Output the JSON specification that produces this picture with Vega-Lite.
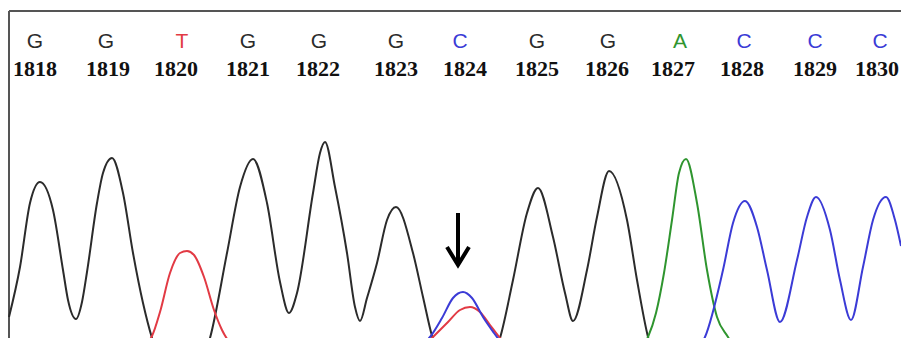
{
  "$schema": "https://vega.github.io/schema/vega-lite/v6.json",
  "width": 901,
  "height": 338,
  "autosize": {"type": "fit", "contains": "padding"},
  "padding": 0,
  "background": "white",
  "config": {"view": {"stroke": null}},
  "datasets": {
    "trace": [
      {"s":"G1","b":"G","x":9,"y":21},{"s":"G1","b":"G","x":20,"y":71},{"s":"G1","b":"G","x":30,"y":135},{"s":"G1","b":"G","x":40,"y":156},{"s":"G1","b":"G","x":53,"y":128},{"s":"G1","b":"G","x":63,"y":68},{"s":"G1","b":"G","x":68,"y":38},{"s":"G1","b":"G","x":76,"y":19},{"s":"G1","b":"G","x":82,"y":36},{"s":"G1","b":"G","x":87,"y":66},{"s":"G1","b":"G","x":97,"y":135},{"s":"G1","b":"G","x":103,"y":165},{"s":"G1","b":"G","x":112,"y":180},{"s":"G1","b":"G","x":123,"y":145},{"s":"G1","b":"G","x":133,"y":85},{"s":"G1","b":"G","x":143,"y":35},{"s":"G1","b":"G","x":152,"y":0},{"s":"G1","b":"G","x":166,"y":-34},{"s":"G1","b":"G","x":181,"y":-47},{"s":"G1","b":"G","x":196,"y":-34},{"s":"G1","b":"G","x":210,"y":0},{"s":"G1","b":"G","x":227,"y":85},{"s":"G1","b":"G","x":240,"y":151},{"s":"G1","b":"G","x":253,"y":179},{"s":"G1","b":"G","x":267,"y":135},{"s":"G1","b":"G","x":280,"y":56},{"s":"G1","b":"G","x":289,"y":25},{"s":"G1","b":"G","x":297,"y":45},{"s":"G1","b":"G","x":313,"y":145},{"s":"G1","b":"G","x":320,"y":185},{"s":"G1","b":"G","x":325,"y":196},{"s":"G1","b":"G","x":335,"y":151},{"s":"G1","b":"G","x":347,"y":85},{"s":"G1","b":"G","x":355,"y":31},{"s":"G1","b":"G","x":360,"y":17},{"s":"G1","b":"G","x":367,"y":40},{"s":"G1","b":"G","x":377,"y":75},{"s":"G1","b":"G","x":387,"y":118},{"s":"G1","b":"G","x":396,"y":131},{"s":"G1","b":"G","x":413,"y":85},{"s":"G1","b":"G","x":423,"y":41},{"s":"G1","b":"G","x":432,"y":2},{"s":"G1","b":"G","x":447,"y":-30},{"s":"G1","b":"G","x":466,"y":-42},{"s":"G1","b":"G","x":485,"y":-30},{"s":"G1","b":"G","x":500,"y":0},{"s":"G1","b":"G","x":513,"y":58},{"s":"G1","b":"G","x":527,"y":125},{"s":"G1","b":"G","x":538,"y":150},{"s":"G1","b":"G","x":553,"y":101},{"s":"G1","b":"G","x":565,"y":45},{"s":"G1","b":"G","x":573,"y":17},{"s":"G1","b":"G","x":587,"y":68},{"s":"G1","b":"G","x":597,"y":121},{"s":"G1","b":"G","x":609,"y":167},{"s":"G1","b":"G","x":627,"y":118},{"s":"G1","b":"G","x":637,"y":58},{"s":"G1","b":"G","x":648,"y":1},{"s":"G1","b":"G","x":662,"y":-34},{"s":"G1","b":"G","x":680,"y":-52},
      {"s":"T1","b":"T","x":140,"y":-10},{"s":"T1","b":"T","x":152,"y":2},{"s":"T1","b":"T","x":160,"y":26},{"s":"T1","b":"T","x":170,"y":65},{"s":"T1","b":"T","x":180,"y":85},{"s":"T1","b":"T","x":187,"y":87},{"s":"T1","b":"T","x":194,"y":83},{"s":"T1","b":"T","x":204,"y":61},{"s":"T1","b":"T","x":214,"y":28},{"s":"T1","b":"T","x":222,"y":8},{"s":"T1","b":"T","x":232,"y":-8},
      {"s":"T2","b":"T","x":425,"y":-7},{"s":"T2","b":"T","x":435,"y":3},{"s":"T2","b":"T","x":448,"y":16},{"s":"T2","b":"T","x":460,"y":28},{"s":"T2","b":"T","x":470,"y":31},{"s":"T2","b":"T","x":480,"y":26},{"s":"T2","b":"T","x":490,"y":13},{"s":"T2","b":"T","x":500,"y":0},{"s":"T2","b":"T","x":507,"y":-7},
      {"s":"C1","b":"C","x":422,"y":-7},{"s":"C1","b":"C","x":430,"y":1},{"s":"C1","b":"C","x":442,"y":20},{"s":"C1","b":"C","x":453,"y":40},{"s":"C1","b":"C","x":463,"y":46},{"s":"C1","b":"C","x":472,"y":40},{"s":"C1","b":"C","x":483,"y":21},{"s":"C1","b":"C","x":494,"y":5},{"s":"C1","b":"C","x":503,"y":-7},
      {"s":"A1","b":"A","x":640,"y":-12},{"s":"A1","b":"A","x":648,"y":1},{"s":"A1","b":"A","x":656,"y":25},{"s":"A1","b":"A","x":664,"y":65},{"s":"A1","b":"A","x":672,"y":118},{"s":"A1","b":"A","x":679,"y":165},{"s":"A1","b":"A","x":686,"y":179},{"s":"A1","b":"A","x":697,"y":135},{"s":"A1","b":"A","x":707,"y":68},{"s":"A1","b":"A","x":717,"y":21},{"s":"A1","b":"A","x":728,"y":1},{"s":"A1","b":"A","x":736,"y":-12},
      {"s":"C2","b":"C","x":697,"y":-12},{"s":"C2","b":"C","x":705,"y":1},{"s":"C2","b":"C","x":723,"y":68},{"s":"C2","b":"C","x":733,"y":115},{"s":"C2","b":"C","x":745,"y":137},{"s":"C2","b":"C","x":757,"y":111},{"s":"C2","b":"C","x":767,"y":68},{"s":"C2","b":"C","x":780,"y":16},{"s":"C2","b":"C","x":797,"y":78},{"s":"C2","b":"C","x":807,"y":121},{"s":"C2","b":"C","x":816,"y":141},{"s":"C2","b":"C","x":830,"y":108},{"s":"C2","b":"C","x":840,"y":58},{"s":"C2","b":"C","x":851,"y":18},{"s":"C2","b":"C","x":863,"y":71},{"s":"C2","b":"C","x":873,"y":118},{"s":"C2","b":"C","x":886,"y":141},{"s":"C2","b":"C","x":895,"y":118},{"s":"C2","b":"C","x":901,"y":92}
    ],
    "calls": [
      {"pos":"1818","b":"G","lx":35,"nx":35},
      {"pos":"1819","b":"G","lx":106,"nx":108},
      {"pos":"1820","b":"T","lx":182,"nx":176},
      {"pos":"1821","b":"G","lx":248,"nx":248},
      {"pos":"1822","b":"G","lx":319,"nx":318},
      {"pos":"1823","b":"G","lx":396,"nx":396},
      {"pos":"1824","b":"C","lx":460,"nx":465},
      {"pos":"1825","b":"G","lx":537,"nx":537},
      {"pos":"1826","b":"G","lx":608,"nx":607},
      {"pos":"1827","b":"A","lx":680,"nx":673},
      {"pos":"1828","b":"C","lx":744,"nx":742},
      {"pos":"1829","b":"C","lx":815,"nx":815},
      {"pos":"1830","b":"C","lx":880,"nx":877}
    ],
    "frame": [
      {"x":9,"x2":901,"y":327,"y2":327},
      {"x":9,"x2":9,"y":327,"y2":0}
    ],
    "arrowhead": [
      {"x":447,"y":91},{"x":458,"y":73},{"x":469,"y":91}
    ],
    "shaft": [
      {"x":458,"y":125,"y2":76}
    ]
  },
  "layer": [
    {
      "data": {"name": "frame"},
      "mark": {"type": "rule", "color": "#555555", "strokeWidth": 2, "clip": true},
      "encoding": {
        "x": {"field": "x", "type": "quantitative", "scale": {"domain": [0, 901], "nice": false, "zero": false}, "axis": null},
        "x2": {"field": "x2"},
        "y": {"field": "y", "type": "quantitative", "scale": {"domain": [0, 338], "nice": false, "zero": false}, "axis": null},
        "y2": {"field": "y2"}
      }
    },
    {
      "data": {"name": "trace"},
      "mark": {"type": "line", "interpolate": "monotone", "strokeWidth": 2, "clip": true},
      "encoding": {
        "x": {"field": "x", "type": "quantitative", "scale": {"domain": [0, 901], "nice": false, "zero": false}, "axis": null},
        "y": {"field": "y", "type": "quantitative", "scale": {"domain": [0, 338], "nice": false, "zero": false}, "axis": null},
        "detail": {"field": "s"},
        "color": {"field": "b", "type": "nominal", "scale": {"domain": ["G", "T", "C", "A"], "range": ["#2b2b2b", "#e23a44", "#3b3bd6", "#2f952f"]}, "legend": null},
        "order": {"field": "x", "type": "quantitative"}
      }
    },
    {
      "data": {"name": "shaft"},
      "mark": {"type": "rule", "color": "#000000", "strokeWidth": 4},
      "encoding": {
        "x": {"field": "x", "type": "quantitative", "scale": {"domain": [0, 901], "nice": false, "zero": false}, "axis": null},
        "y": {"field": "y", "type": "quantitative", "scale": {"domain": [0, 338], "nice": false, "zero": false}, "axis": null},
        "y2": {"field": "y2"}
      }
    },
    {
      "data": {"name": "arrowhead"},
      "mark": {"type": "line", "color": "#000000", "strokeWidth": 4, "strokeJoin": "miter", "strokeCap": "butt"},
      "encoding": {
        "x": {"field": "x", "type": "quantitative", "scale": {"domain": [0, 901], "nice": false, "zero": false}, "axis": null},
        "y": {"field": "y", "type": "quantitative", "scale": {"domain": [0, 338], "nice": false, "zero": false}, "axis": null},
        "order": {"field": "x", "type": "quantitative"}
      }
    },
    {
      "data": {"name": "calls"},
      "mark": {"type": "text", "font": "Liberation Sans", "fontSize": 21, "baseline": "alphabetic", "align": "center"},
      "encoding": {
        "x": {"field": "lx", "type": "quantitative", "scale": {"domain": [0, 901], "nice": false, "zero": false}, "axis": null},
        "y": {"datum": 290, "type": "quantitative", "scale": {"domain": [0, 338], "nice": false, "zero": false}, "axis": null},
        "text": {"field": "b"},
        "color": {"field": "b", "type": "nominal", "scale": {"domain": ["G", "T", "C", "A"], "range": ["#2b2b2b", "#e23a44", "#3b3bd6", "#2f952f"]}, "legend": null}
      }
    },
    {
      "data": {"name": "calls"},
      "mark": {"type": "text", "font": "Liberation Serif", "fontWeight": "bold", "fontSize": 22, "baseline": "alphabetic", "align": "center", "color": "#111111"},
      "encoding": {
        "x": {"field": "nx", "type": "quantitative", "scale": {"domain": [0, 901], "nice": false, "zero": false}, "axis": null},
        "y": {"datum": 262, "type": "quantitative", "scale": {"domain": [0, 338], "nice": false, "zero": false}, "axis": null},
        "text": {"field": "pos"}
      }
    }
  ]
}
